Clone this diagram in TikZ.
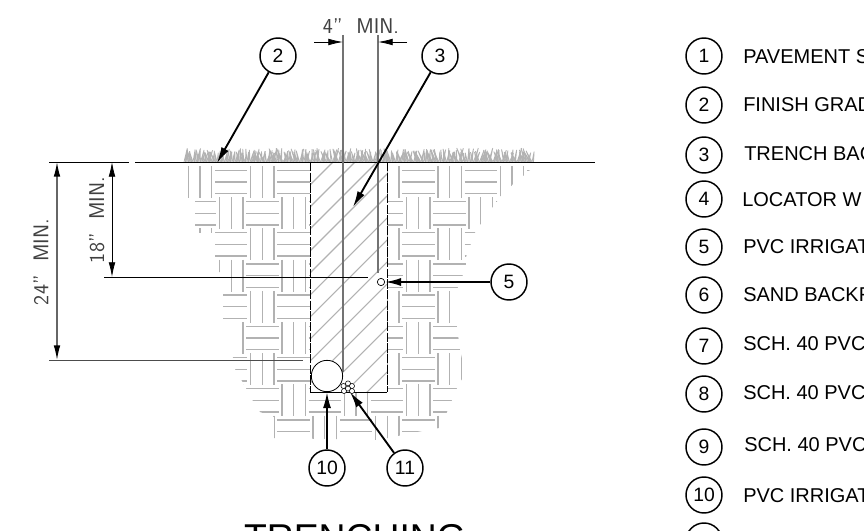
\documentclass[tikz,border=0pt]{standalone}
\usepackage{fontspec}
\setmainfont{Liberation Sans}
\usetikzlibrary{arrows.meta}
\tikzset{
  balloon/.style={draw=black,circle,line width=1.1pt,minimum size=27pt,inner sep=0pt,font=\fontsize{14.5}{16}\selectfont},
  legendtext/.style={anchor=west,inner sep=0pt,font=\fontsize{15}{17}\selectfont},
  leader/.style={black,line width=1.4pt,-{Latex[length=12pt,width=6pt]}},
  dimarrow/.style={-{Latex[black,length=11pt,width=5pt]}},
  dimtext/.style={inner sep=0pt,text=black!75,font=\sffamily\fontsize{16}{18}\selectfont},
  weave/.style={black!30,line width=1pt},
  hatch/.style={black!30,line width=0.8pt},
  extline/.style={black!55,line width=1.1pt}
}
\begin{document}
\begin{tikzpicture}[x=0.75pt,y=-0.75pt]
\useasboundingbox (0,0) rectangle (864,531);
\clip (0,0) rectangle (864,531);
\begin{scope}
\clip (186,165) -- (186,198) -- (195,198) -- (195,229) -- (199,229) -- (199,233) -- (212,233) -- (212,258) -- (219,258) -- (219,272) -- (231,272) -- (231,293) -- (223,293) -- (223,320) -- (232,320) -- (232,352) -- (235,369) -- (242,381) -- (247,390) -- (253,401) -- (260,412) -- (274,417) -- (274,438) -- (378,440) -- (422,431) -- (439,428) -- (447,412) -- (452,400) -- (457,388) -- (463,377) -- (463,363) -- (460,350) -- (457,327) -- (452,300) -- (458,287) -- (466,267) -- (466,257) -- (476,230) -- (482,223) -- (493,207) -- (503,193) -- (530,170) -- (535,165) -- cycle;
\foreach \j in {0,...,8} {
  \foreach \i in {-1,...,5} {
    \pgfmathsetmacro{\hx}{215+62.4*\i+31.2*mod(\j,2)}
    \pgfmathsetmacro{\hy}{182+31.2*\j}
    \pgfmathsetmacro{\vx}{\hx+47.4}
    \foreach \d in {-11.7,0,11.7} {
      \draw [weave] (\hx,\hy+\d) -- (\hx+32.4,\hy+\d);
      \draw [weave] (\vx+\d,\hy-16) -- (\vx+\d,\hy+16);
    }
  }
}
\end{scope}
\fill [white] (310,162) rectangle (387,392);
\begin{scope}
\clip (310,162) rectangle (387,392);
\foreach \k in {-13,...,0} {
  \pgfmathsetmacro{\c}{759+22*\k}
  \draw [hatch] (310,\c-310) -- (387,\c-387);
}
\end{scope}
\pgfmathsetseed{11}
\foreach \x in {184,185.5,...,533} {
  \pgfmathsetmacro{\dx}{rand*5}
  \pgfmathsetmacro{\dy}{9+5*rnd}
  \draw [black!30,line width=0.6pt] (\x,162) -- (\x+\dx,162-\dy) -- (\x+1.5,162);
}
\draw [black,line width=0.6pt] (135,162) -- (595,162);
\draw [black,line width=0.6pt] (49,162) -- (129,162);
\draw [black,line width=0.7pt,dash pattern=on 7pt off 1pt] (310,162) -- (310,392);
\draw [black,line width=0.7pt,dash pattern=on 7pt off 1pt] (387,162) -- (387,392);
\draw [black,line width=0.7pt] (310,392) -- (387,392);
\coordinate (widthleft) at (343,35);
\coordinate (leftend) at (343,372);
\coordinate (widthright) at (378,35);
\coordinate (rightend) at (378,273);
\draw [extline] (widthleft) -- (leftend);
\draw [extline] (widthright) -- (rightend);
\node [draw=black,circle,fill=white,line width=0.6pt,minimum size=23.5pt,inner sep=0pt] (bigpipe) at (327,376) {};
\node [draw=black,circle,line width=0.5pt,minimum size=5.5pt,inner sep=0pt] (smallpipe) at (381,282) {};
\foreach \sx/\sy in {343.5/386,348/383.4,352/386,344/391,348/388.6,352/391} {
  \draw [black,line width=0.4pt,fill=white] (\sx,\sy) circle (1.9pt);
}
\coordinate (dimleft) at (314,42);
\coordinate (dimright) at (407,42);
\coordinate (tipleft) at (343,42);
\coordinate (tipright) at (378,42);
\draw [black,line width=0.6pt,dimarrow] (dimleft) -- (tipleft);
\draw [black,line width=0.6pt,dimarrow] (dimright) -- (tipright);
\node [dimtext] (widthtext) at (361,26) {4''\,\, MIN.};
\coordinate (deeptop) at (57,162);
\coordinate (deepmid) at (57,261);
\coordinate (deepbot) at (57,360);
\coordinate (midtop) at (112,162);
\coordinate (midmid) at (112,220);
\coordinate (midbot) at (112,277);
\draw [black!60,line width=1pt,dimarrow] (deepmid) -- (deeptop);
\draw [black!60,line width=1pt,dimarrow] (deepmid) -- (deepbot);
\draw [black,line width=0.6pt,dimarrow] (midmid) -- (midtop);
\draw [black,line width=0.6pt,dimarrow] (midmid) -- (midbot);
\draw [black!70,line width=0.7pt] (49,360) -- (303,360);
\draw [black,line width=0.6pt] (104,277) -- (368,277);
\node [dimtext,rotate=90] (deeptext) at (41,262) {24''\,\, MIN.};
\node [dimtext,rotate=90] (midtext) at (97,220) {18''\,\, MIN.};
\node [balloon] (ctwo) at (278,56) {2};
\node [balloon] (cthree) at (440,56) {3};
\node [balloon] (cfive) at (509,282) {5};
\node [balloon] (cten) at (327,468) {10};
\node [balloon] (celeven) at (405,468) {11};
\coordinate (grade) at (217,163);
\coordinate (backfill) at (353,207);
\coordinate (sand) at (350,392);
\draw [leader] (ctwo) -- (grade);
\draw [leader] (cthree) -- (backfill);
\draw [leader] (cfive) -- (smallpipe);
\draw [leader] (cten) -- (bigpipe.south);
\draw [leader] (celeven) -- (sand);
\foreach \n/\y/\tx/\ty/\t in {1/56/743/57/PAVEMENT S,2/105/743/105/FINISH GRAD,3/155/744/154/TRENCH BAC,4/199/742/200/LOCATOR W,5/247/743/247/PVC IRRIGAT,6/295/743/295/SAND BACKF,7/346/743/344/SCH. 40 PVC,8/394/743/393/SCH. 40 PVC,9/447/744/445/SCH. 40 PVC,10/495/743/496/PVC IRRIGAT} {
  \node [balloon] (key\n) at (704,\y) {\n};
  \node [legendtext] (keytext\n) at (\tx,\ty) {\t};
}
\node [balloon] (key11) at (704,541) {11};
\node [anchor=base,inner sep=0pt,font=\fontsize{28}{30}\selectfont] (title) at (355,550.5) {TRENCHING};
\end{tikzpicture}
\end{document}
